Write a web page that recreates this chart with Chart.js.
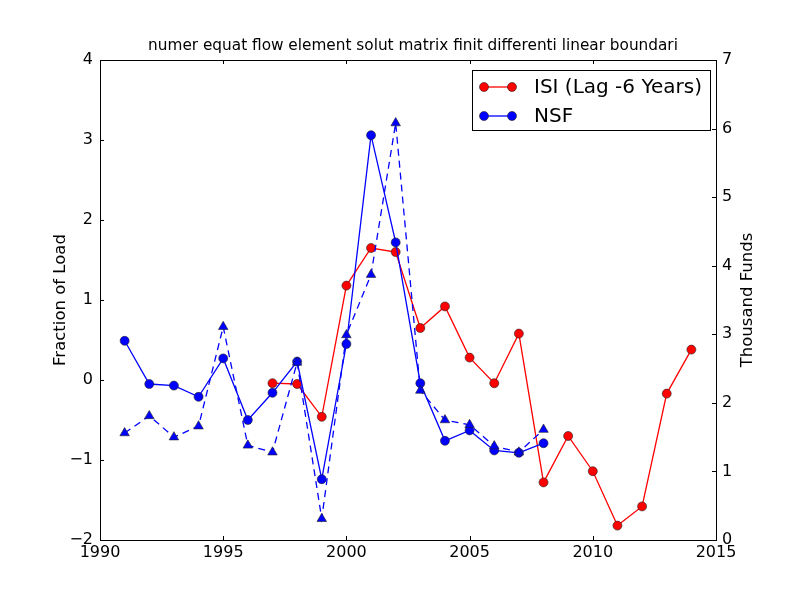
<!DOCTYPE html>
<html>
<head>
<meta charset="utf-8">
<script src="https://cdn.jsdelivr.net/npm/chart.js@4"></script>
<style>
  html, body { margin: 0; padding: 0; background: #fff; }
  #wrap { width: 800px; height: 600px; }
</style>
</head>
<body>
<div id="wrap"><canvas id="chart" width="800" height="600"></canvas></div>
<script>
// values
const TITLE = "numer equat flow element solut matrix finit differenti linear boundari";

const ISI_YEARS = [1997, 1998, 1999, 2000, 2001, 2002, 2003, 2004, 2005, 2006, 2007, 2008, 2009, 2010, 2011, 2012, 2013, 2014];
const ISI_VALUES = [-0.04, -0.05, -0.46, 1.18, 1.65, 1.60, 0.65, 0.92, 0.28, -0.04, 0.58, -1.28, -0.70, -1.14, -1.82, -1.58, -0.17, 0.38];

const NSF_YEARS = [1991, 1992, 1993, 1994, 1995, 1996, 1997, 1998, 1999, 2000, 2001, 2002, 2003, 2004, 2005, 2006, 2007, 2008];
const NSF_VALUES = [0.49, -0.05, -0.07, -0.21, 0.27, -0.50, -0.16, 0.23, -1.24, 0.45, 3.06, 1.72, -0.04, -0.76, -0.63, -0.88, -0.91, -0.79];
// thousand funds (right axis)
const FUNDS_VALUES = [1.56, 1.81, 1.50, 1.66, 3.11, 1.38, 1.28, 2.59, 0.31, 2.99, 3.87, 6.08, 2.18, 1.75, 1.68, 1.37, 1.28, 1.61];

const FONT = "'DejaVu Sans', sans-serif";

const toPoints = (xs, ys) => xs.map((x, i) => ({ x, y: ys[i] }));
const minus = (v) => String(v).replace("-", "\u2212");

// matplotlib-style frame, inward ticks, title, right label and legend
const decor = {
  id: "decor",
  afterDraw(chart) {
    const { ctx, chartArea: a, scales } = chart;
    ctx.save();
    ctx.strokeStyle = "#000";
    ctx.lineWidth = 1;

    // ticks
    const T = 4;
    ctx.beginPath();
    scales.x.ticks.forEach((t) => {
      const px = Math.round(scales.x.getPixelForValue(t.value)) + 0.5;
      ctx.moveTo(px, a.bottom); ctx.lineTo(px, a.bottom - T);
      ctx.moveTo(px, a.top); ctx.lineTo(px, a.top + T);
    });
    scales.y.ticks.forEach((t) => {
      const py = Math.round(scales.y.getPixelForValue(t.value)) + 0.5;
      ctx.moveTo(a.left, py); ctx.lineTo(a.left + T, py);
    });
    scales.y2.ticks.forEach((t) => {
      const py = Math.round(scales.y2.getPixelForValue(t.value)) + 0.5;
      ctx.moveTo(a.right, py); ctx.lineTo(a.right - T, py);
    });
    ctx.stroke();

    // frame
    ctx.strokeRect(Math.round(a.left) + 0.5, Math.round(a.top) + 0.5,
      Math.round(a.right - a.left), Math.round(a.bottom - a.top));

    // title
    ctx.fillStyle = "#000";
    ctx.font = "15.3px " + FONT;
    ctx.textAlign = "center";
    ctx.textBaseline = "alphabetic";
    ctx.fillText(TITLE, 413, 50);

    // right axis label
    ctx.save();
    ctx.translate(748, (a.top + a.bottom) / 2);
    ctx.rotate(-Math.PI / 2);
    ctx.font = "16.5px " + FONT;
    ctx.textBaseline = "middle";
    ctx.fillText("Thousand Funds", 0, 0);
    ctx.restore();

    // legend
    const lx = 472, ly = 70, lw = 238, lh = 60;
    ctx.fillStyle = "#fff";
    ctx.fillRect(lx, ly, lw, lh);
    ctx.strokeRect(lx + 0.5, ly + 0.5, lw, lh);
    const items = chart.data.datasets.filter((d) => d.inLegend);
    items.forEach((d, i) => {
      const y = 87 + i * 29;
      ctx.strokeStyle = d.borderColor;
      ctx.lineWidth = 1.3;
      ctx.beginPath();
      ctx.moveTo(484, y); ctx.lineTo(512, y);
      ctx.stroke();
      [484, 512].forEach((cx) => {
        ctx.beginPath();
        ctx.arc(cx, y, 4.5, 0, Math.PI * 2);
        ctx.fillStyle = d.pointBackgroundColor;
        ctx.fill();
        ctx.strokeStyle = "#222";
        ctx.lineWidth = 0.6;
        ctx.stroke();
      });
      ctx.fillStyle = "#000";
      ctx.font = "20px " + FONT;
      ctx.textAlign = "left";
      ctx.textBaseline = "middle";
      ctx.fillText(d.label, 534, y + 1);
    });
    ctx.restore();
  },
};

new Chart(document.getElementById("chart").getContext("2d"), {
  type: "line",
  data: {
    datasets: [
      {
        label: "ISI (Lag -6 Years)",
        inLegend: true,
        data: toPoints(ISI_YEARS, ISI_VALUES),
        yAxisID: "y",
        borderColor: "#ff0000",
        backgroundColor: "#ff0000",
        pointBackgroundColor: "#ff0000",
        pointBorderColor: "#222",
        pointBorderWidth: 0.6,
        pointRadius: 4.5,
        borderWidth: 1.3,
        tension: 0,
        order: 3,
      },
      {
        label: "NSF",
        inLegend: true,
        data: toPoints(NSF_YEARS, NSF_VALUES),
        yAxisID: "y",
        borderColor: "#0000ff",
        backgroundColor: "#0000ff",
        pointBackgroundColor: "#0000ff",
        pointBorderColor: "#222",
        pointBorderWidth: 0.6,
        pointRadius: 4.5,
        borderWidth: 1.3,
        tension: 0,
        order: 2,
      },
      {
        label: "Funds",
        data: toPoints(NSF_YEARS, FUNDS_VALUES),
        yAxisID: "y2",
        borderColor: "#0000ff",
        backgroundColor: "#0000ff",
        pointBackgroundColor: "#0000ff",
        pointBorderColor: "#222",
        pointBorderWidth: 0.6,
        pointStyle: "triangle",
        pointRadius: 5.5,
        borderWidth: 1.3,
        borderDash: [7, 5],
        tension: 0,
        order: 1,
      },
    ],
  },
  options: {
    responsive: false,
    animation: false,
    layout: { padding: { top: 60, bottom: 0, left: 0, right: 0 } },
    plugins: { legend: { display: false }, tooltip: { enabled: false }, title: { display: false } },
    scales: {
      x: {
        type: "linear",
        min: 1990,
        max: 2015,
        afterFit: (s) => { s.height = 60; },
        grid: { display: false, drawTicks: false },
        border: { display: false },
        ticks: { stepSize: 5, color: "#000", font: { family: FONT, size: 16 }, padding: 3, maxRotation: 0, callback: (v) => String(v) },
      },
      y: {
        position: "left",
        min: -2,
        max: 4,
        afterFit: (s) => { s.width = 100; },
        grid: { display: false, drawTicks: false },
        border: { display: false },
        ticks: { stepSize: 1, color: "#000", font: { family: FONT, size: 16 }, padding: 7, callback: minus },
        title: { display: true, text: "Fraction of Load", color: "#000", font: { family: FONT, size: 16.5 }, padding: { top: 51, bottom: 0 } },
      },
      y2: {
        position: "right",
        min: 0,
        max: 7,
        afterFit: (s) => { s.width = 84; },
        grid: { display: false, drawTicks: false },
        border: { display: false },
        ticks: { stepSize: 1, color: "#000", font: { family: FONT, size: 16 }, padding: 6 },
      },
    },
  },
  plugins: [decor],
});
</script>
</body>
</html>
